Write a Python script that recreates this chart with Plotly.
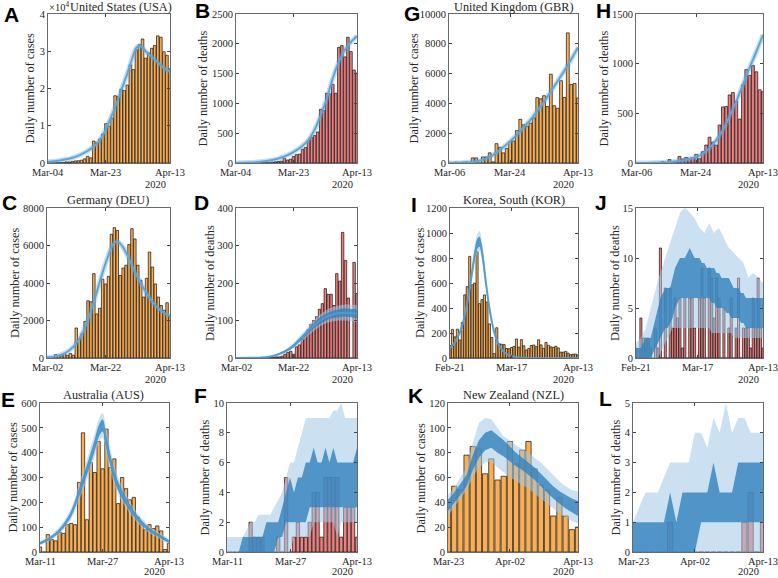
import plotly.graph_objects as go
import pandas as pd

# ======================= DATA =======================
# ---- United States (USA): Mar-04 .. Apr-13
USA_START, USA_MID, USA_END = "2020-03-04", "2020-03-23", "2020-04-13"
USA_CASES = [30, 60, 70, 100, 120, 120, 290, 270, 410, 560, 610, 750, 1100, 1790, 1370,
             5890, 5420, 6390, 7780, 10570, 9890, 12040, 18060, 17820, 19810, 19440, 20920,
             26340, 25070, 30380, 31750, 33280, 28150, 29520, 30800, 31530, 34130, 33760,
             29860, 28920, 25310]
USA_CASES_FIT_DAYS = [0, 2, 4, 6, 8, 10, 12, 14, 16, 18, 20, 22, 24, 26, 28, 29, 30, 31, 32, 34, 36, 38, 40]
USA_CASES_FIT = [300, 500, 700, 1000, 1400, 2000, 2800, 3800, 5200, 7500, 11000, 15000, 19500,
                 24000, 29000, 31000, 31500, 31000, 30000, 28500, 27000, 25500, 24500]
USA_DEATHS = [1, 1, 1, 2, 2, 3, 4, 4, 5, 6, 8, 10, 15, 20, 25, 30,
              80, 50, 65, 110, 140, 150, 230, 260, 380, 430, 460, 520, 900, 880, 1170, 1160,
              1320, 1170, 1940, 1970, 1780, 2110, 1870, 1560, 1510]
USA_DEATHS_FIT_DAYS = [0, 4, 8, 12, 14, 16, 18, 20, 22, 24, 26, 28, 30, 32, 34, 36, 38, 40]
USA_DEATHS_FIT = [2, 8, 20, 50, 75, 110, 155, 215, 290, 390, 560, 800, 1080, 1420, 1700, 1900, 2030, 2130]

# ---- United Kingdom (GBR): Mar-06 .. Apr-13
GBR_START, GBR_MID, GBR_END = "2020-03-06", "2020-03-24", "2020-04-13"
GBR_CASES = [48, 43, 67, 48, 62, 75, 0, 342, 342, 1, 407, 409, 682, 74, 1298, 1053, 678, 981,
             1438, 1476, 2172, 2933, 2567, 2468, 2673, 3028, 4384, 4308, 4516, 3788, 5959, 3843,
             3670, 5525, 4398, 8733, 5269, 5332, 4364]
GBR_CASES_FIT_DAYS = [0, 4, 8, 10, 12, 14, 16, 18, 20, 22, 24, 26, 28, 30, 32, 34, 36, 38]
GBR_CASES_FIT = [0, 20, 100, 220, 400, 700, 1050, 1450, 1900, 2400, 2900, 3500, 4100, 4800, 5500,
                 6200, 6950, 7750]
GBR_DEATHS = [1, 0, 1, 1, 2, 2, 0, 0, 13, 0, 35, 0, 16, 66, 40, 56, 48, 54, 87, 43, 114, 181,
              260, 210, 180, 382, 564, 569, 685, 709, 623, 442, 786, 940, 882, 981, 918, 737, 718]
GBR_DEATHS_FIT_DAYS = [0, 5, 10, 14, 16, 18, 20, 22, 24, 26, 28, 30, 32, 34, 36, 38]
GBR_DEATHS_FIT = [0, 2, 10, 25, 40, 60, 95, 150, 230, 330, 470, 620, 790, 960, 1120, 1290]

# ---- Germany (DEU): Mar-02 .. Apr-13
DEU_START, DEU_MID, DEU_END = "2020-03-02", "2020-03-22", "2020-04-13"
DEU_CASES = [30, 50, 50, 180, 130, 120, 240, 140, 240, 150, 1600, 1000, 1300, 1950, 3050, 3000,
             4500, 2350, 2650, 4200, 3950, 4350, 6600, 6950, 6800, 4400, 4800, 4950, 6050, 6900,
             6350, 4950, 4150, 3250, 4250, 5650, 4850, 3950, 3250, 2800, 2550, 2950, 2250]
DEU_CASES_FIT_DAYS = [0, 2, 4, 6, 8, 10, 12, 14, 16, 18, 20, 22, 23, 24, 25, 26, 28, 30, 32, 34, 36, 38, 40, 42]
DEU_CASES_FIT = [30, 60, 130, 250, 450, 780, 1300, 2050, 3000, 4050, 5050, 5900, 6150, 6200, 6100,
                 5900, 5300, 4600, 4000, 3450, 3000, 2650, 2400, 2250]
DEU_DEATHS = [0, 0, 0, 0, 0, 0, 0, 1, 0, 2, 0, 1, 2, 2, 3, 3, 5, 10, 15, 18, 10, 30, 35, 50, 60,
              75, 90, 100, 110, 130, 145, 185, 170, 170, 140, 225, 205, 335, 260, 160, 0, 255, 172]
DEU_DEATHS_FIT_DAYS = [0, 5, 8, 10, 12, 14, 16, 18, 20, 22, 24, 26, 28, 30, 32, 34, 36, 38, 40, 42]
DEU_DEATHS_MED = [0, 0.5, 1, 2, 4, 8, 14, 22, 33, 48, 63, 79, 93, 104, 112, 117, 120, 121, 120, 118]
DEU_DEATHS_D_LO = [0, 0.4, 0.8, 1.6, 3.3, 6.8, 12, 19, 29, 43, 57, 72, 85, 95, 103, 107, 109, 110, 109, 107]
DEU_DEATHS_D_HI = [0, 0.6, 1.2, 2.4, 4.7, 9.2, 16, 25, 37, 53, 69, 86, 101, 113, 121, 127, 131, 132, 131, 129]
DEU_DEATHS_L_LO = [0, 0.3, 0.6, 1.3, 2.8, 5.8, 10, 17, 26, 39, 52, 66, 78, 88, 95, 98, 100, 100, 99, 97]
DEU_DEATHS_L_HI = [0.1, 0.8, 1.5, 2.8, 5.4, 10.5, 18, 28, 41, 58, 75, 93, 109, 121, 131, 137, 141, 143, 142, 140]

# ---- Korea, South (KOR): Feb-21 .. Apr-13
KOR_START, KOR_MID, KOR_END = "2020-02-21", "2020-03-17", "2020-04-13"
KOR_CASES = [100, 229, 169, 231, 144, 284, 505, 571, 813, 586, 599, 851, 435, 467, 505, 448, 273,
             164, 35, 242, 114, 110, 107, 76, 74, 84, 93, 152, 87, 147, 98, 64, 76, 100, 104, 91,
             146, 105, 78, 125, 101, 89, 86, 94, 81, 47, 47, 53, 39, 27, 30, 32, 25]
KOR_CASES_FIT_DAYS = [0, 2, 4, 5, 6, 7, 8, 9, 10, 11, 12, 13, 14, 15, 16, 17, 18, 19, 20, 21, 22, 24, 26, 28, 32, 40, 52]
KOR_CASES_MED = [80, 125, 205, 265, 340, 440, 560, 690, 820, 910, 930, 850, 700, 540, 400, 290, 205,
                 145, 100, 70, 48, 22, 10, 5, 1, 0, 0]
KOR_CASES_L_HI = [90, 138, 224, 290, 372, 482, 612, 755, 895, 990, 1015, 930, 768, 595, 442, 322,
                  229, 163, 114, 80, 56, 27, 13, 7, 2, 0.5, 0.5]
KOR_CASES_L_LO = [72, 113, 188, 243, 311, 402, 510, 628, 748, 833, 855, 780, 640, 492, 362, 260, 183,
                  129, 88, 61, 41, 18, 8, 4, 0.5, 0, 0]
KOR_CASES_D_HI = [85, 131, 214, 277, 355, 460, 585, 720, 855, 950, 970, 890, 733, 567, 420, 305, 216,
                  153, 106, 74, 51, 24, 11, 6, 1.5, 0.2, 0.2]
KOR_CASES_D_LO = [75, 119, 196, 253, 325, 420, 535, 660, 785, 870, 890, 810, 667, 513, 380, 275, 194,
                  137, 94, 66, 45, 20, 9, 4, 0.8, 0, 0]
KOR_DEATHS = [1, 0, 4, 2, 2, 2, 1, 0, 3, 1, 11, 0, 7, 0, 7, 3, 6, 4, 6, 1, 6, 0, 6, 6, 3, 0, 6, 9,
              6, 0, 9, 8, 4, 8, 6, 0, 5, 0, 3, 6, 0, 3, 8, 0, 3, 3, 3, 1, 6, 3, 8, 3, 1]
KOR_DEATHS_L_HI = [1.5, 1.8, 2, 2.5, 3, 4, 5, 6, 7, 7.8, 8.5, 9.3, 10, 10.8, 11.5, 12.3, 13, 13.8,
                   14.5, 14.8, 15, 14.8, 14.5, 14.3, 14, 13.5, 13, 12.8, 12.5, 13, 13.5, 13, 12.5,
                   12.8, 13, 12.5, 12, 11.5, 11, 10.8, 10.5, 10.3, 10, 9.8, 9.5, 8.8, 8, 8.3, 8.5,
                   8.3, 8, 7.8, 7.5]
KOR_DEATHS_L_LO = [0, 0, 0, 0, 0, 0, 0, 0, 0, 0, 0.5, 1, 1.5, 2, 2.5, 3, 3, 3, 3, 3, 3, 3, 3, 3, 3,
                   3, 3, 3, 3, 3, 3, 2.5, 2.5, 2.5, 2.5, 2.5, 2.5, 2.5, 2.5, 2.5, 2, 2, 2, 2, 2, 2,
                   2, 2, 2, 2, 2, 2, 2]
KOR_DEATHS_D_HI = [1, 1, 1, 1.5, 2, 2, 2, 3, 4, 5, 6, 6.5, 7, 7, 7, 8, 9, 9.5, 10, 10, 10, 10.5, 11,
                   10.5, 10, 10, 10, 9.5, 9.5, 9, 9, 9, 9, 8.5, 8.5, 8, 8, 8, 8, 7.5, 7, 7, 7, 6.5,
                   6.5, 6, 6, 6, 6, 6, 6, 6, 6]
KOR_DEATHS_D_LO = [0, 0, 0, 0, 0, 0, 0, 0.5, 1, 1.5, 2, 2.5, 3, 3, 3.5, 4, 5, 5.5, 6, 6, 6, 6, 6, 6,
                   6, 6, 6, 6, 6, 6, 6, 5.5, 5.5, 5, 5, 5, 5, 4.5, 4.5, 4, 4, 4, 4, 3.5, 3.5, 3, 3,
                   3, 3, 3, 3, 3, 3]

# ---- Australia (AUS): Mar-11 .. Apr-13
AUS_START, AUS_MID, AUS_END = "2020-03-11", "2020-03-27", "2020-04-13"
AUS_CASES = [20, 0, 70, 50, 45, 80, 75, 110, 115, 110, 280, 480, 130, 360, 320, 445, 335, 495, 340,
             375, 195, 300, 255, 210, 220, 140, 110, 90, 110, 95, 105, 85, 10, 35]
AUS_CASES_FIT_DAYS = [0, 2, 4, 6, 8, 10, 12, 13, 14, 15, 16, 17, 18, 19, 20, 22, 24, 26, 28, 30, 33]
AUS_CASES_MED = [35, 50, 72, 105, 155, 240, 330, 380, 430, 485, 510, 440, 370, 310, 265, 205, 155, 118, 90, 70, 42]
AUS_CASES_D_LO = [31, 45, 66, 97, 144, 224, 310, 358, 407, 462, 485, 415, 347, 290, 247, 191, 144, 109, 83, 64, 38]
AUS_CASES_D_HI = [39, 55, 78, 113, 166, 256, 350, 402, 453, 508, 535, 465, 393, 330, 283, 219, 166, 127, 97, 76, 46]
AUS_CASES_L_LO = [27, 41, 60, 89, 133, 208, 290, 336, 384, 438, 460, 390, 325, 272, 230, 178, 133, 100, 76, 58, 34]
AUS_CASES_L_HI = [44, 60, 85, 122, 178, 274, 372, 426, 478, 535, 560, 492, 417, 350, 302, 233, 178, 137, 105, 83, 51]
AUS_DEATHS = [0, 0, 0, 0, 0, 0, 2, 1, 1, 1, 0, 0, 0, 1, 0, 5, 0, 1, 2, 1, 1, 2, 4, 4, 1, 5, 5, 5, 5,
              1, 3, 3, 3, 1]
AUS_DEATHS_L_HI = [1, 1, 1, 1, 1, 1.5, 2, 2, 2.5, 2.5, 2.5, 2.5, 3, 3.5, 4, 5, 6, 6, 7, 8, 9, 9, 9, 9,
                   9, 9, 9, 9.5, 9.5, 10, 9, 9, 9, 9]
AUS_DEATHS_L_LO = [0, 0, 0, 0, 0, 0, 0, 0, 0, 0, 0, 0, 0, 0, 0, 0, 0, 1, 1, 1, 1, 1, 2, 2, 2, 2, 2, 2,
                   1, 2, 2, 2, 2, 2]
AUS_DEATHS_D_HI = [0, 0, 0, 0, 1, 1, 1, 1, 1, 1, 2, 2, 2, 2, 3, 4, 5, 4, 5, 5, 6, 6, 7, 6, 6, 7, 6, 7,
                   6, 6, 6, 6, 6, 7]
AUS_DEATHS_D_LO = [0, 0, 0, 0, 0, 0, 0, 0, 0, 0, 0, 0, 0, 1, 1, 2, 2, 2, 2, 2, 2, 3, 3, 3, 3, 3, 3, 3,
                   3, 3, 3, 3, 3, 3]

# ---- New Zealand (NZL): Mar-23 .. Apr-13
NZL_START, NZL_MID, NZL_END = "2020-03-23", "2020-04-02", "2020-04-13"
NZL_CASES = [36, 53, 50, 78, 85, 83, 63, 75, 58, 61, 89, 71, 82, 89, 67, 54, 50, 29, 44, 29, 18, 20]
NZL_CASES_L_HI = [46, 52, 60, 68, 88, 104, 108, 107, 100, 93, 90, 86, 83, 80, 76, 72, 67, 62, 57, 53, 50, 49]
NZL_CASES_L_LO = [29, 36, 43, 50, 60, 68, 72, 73, 68, 64, 60, 57, 54, 51, 47, 43, 39, 35, 31, 28, 25, 23]
NZL_CASES_D_HI = [42, 48, 55, 62, 78, 90, 96, 98, 94, 90, 85, 80, 76, 72, 68, 63, 58, 53, 49, 46, 43, 41]
NZL_CASES_D_LO = [33, 39, 46, 53, 66, 76, 82, 84, 80, 77, 73, 69, 66, 62, 58, 53, 48, 43, 39, 35, 32, 29]
NZL_DEATHS = [0, 0, 0, 0, 0, 0, 1, 0, 0, 0, 0, 0, 0, 0, 0, 0, 0, 0, 1, 2, 0, 1]
NZL_DEATHS_L_HI = [1, 1.5, 2, 2, 2, 2.5, 3, 3, 3, 3, 4, 4, 3.5, 4.5, 4, 5, 4, 4.5, 4.5, 4, 4, 4]
NZL_DEATHS_L_LO = [0] * 22
NZL_DEATHS_D_HI = [1, 1, 1, 1, 1, 1, 2, 1, 2, 2, 2, 2, 2, 3, 2, 2, 2, 3, 3, 3, 3, 3]
NZL_DEATHS_D_LO = [0, 0, 0, 0, 0, 0, 0, 0, 0, 0, 0, 1, 1, 1, 1, 1, 1, 1, 1, 1, 1, 1]

# ======================= STYLE =======================
W, H = 778, 578
SERIF = "Liberation Serif, Times New Roman, serif"
SANS = "Liberation Sans, Arial, sans-serif"
ORANGE = "#FBAE52"
RED = "#EF8080"
LINE_BLUE = "#5FA6D8"
HALO_BLUE = "rgba(95,166,216,0.35)"
LIGHT_FILL = "rgba(160,200,230,0.55)"
DARK_FILL = "rgba(50,130,190,0.80)"
AX_COLOR = "#444444"
TXT = "#262626"
DAY_MS = 86400000
TICK_FS = 10.5
LABEL_FS = 12.3


def day_dates(start, days):
    return [pd.Timestamp(start) + pd.Timedelta(days=int(d)) for d in days]


def series_dates(start, n):
    return list(pd.date_range(start, periods=n, freq="D"))


PANELS = [
    dict(L="A", title="United States (USA)", box=(48, 170, 14, 163), s=USA_START, m=USA_MID, e=USA_END,
         yl="Daily number of cases", ymax=40000, ystep=10000, yscale=1e4, ylx=30, lpos=(11, 15), tpos=(121, 7),
         bars=USA_CASES, col=ORANGE, fit=("line", USA_CASES_FIT_DAYS, USA_CASES_FIT)),
    dict(L="B", title=None, box=(236, 357, 14, 163), s=USA_START, m=USA_MID, e=USA_END,
         yl="Daily number of deaths", ymax=2500, ystep=500, ylx=203, lpos=(202, 11),
         bars=USA_DEATHS, col=RED, fit=("line", USA_DEATHS_FIT_DAYS, USA_DEATHS_FIT)),
    dict(L="G", title="United Kingdom (GBR)", box=(449, 578, 14, 163), s=GBR_START, m=GBR_MID, e=GBR_END,
         yl="Daily number of cases", ymax=10000, ystep=2000, ylx=414, lpos=(412, 13), tpos=(514, 7),
         bars=GBR_CASES, col=ORANGE, fit=("line", GBR_CASES_FIT_DAYS, GBR_CASES_FIT)),
    dict(L="H", title=None, box=(636, 763, 14, 163), s=GBR_START, m=GBR_MID, e=GBR_END,
         yl="Daily number of deaths", ymax=1500, ystep=500, ylx=604, lpos=(603, 11),
         bars=GBR_DEATHS, col=RED, fit=("line", GBR_DEATHS_FIT_DAYS, GBR_DEATHS_FIT)),
    dict(L="C", title="Germany (DEU)", box=(47, 170, 208, 358), s=DEU_START, m=DEU_MID, e=DEU_END,
         yl="Daily number of cases", ymax=8000, ystep=2000, ylx=15, lpos=(9, 203), tpos=(108, 200),
         bars=DEU_CASES, col=ORANGE, fit=("line", DEU_CASES_FIT_DAYS, DEU_CASES_FIT)),
    dict(L="D", title=None, box=(236, 357, 208, 358), s=DEU_START, m=DEU_MID, e=DEU_END,
         yl="Daily number of deaths", ymax=400, ystep=100, ylx=210, lpos=(201, 202),
         bars=DEU_DEATHS, col=RED,
         fit=("band", DEU_DEATHS_FIT_DAYS, DEU_DEATHS_L_LO, DEU_DEATHS_L_HI, DEU_DEATHS_D_LO, DEU_DEATHS_D_HI,
              DEU_DEATHS_MED)),
    dict(L="I", title="Korea, South (KOR)", box=(450, 578, 208, 358), s=KOR_START, m=KOR_MID, e=KOR_END,
         yl="Daily number of cases", ymax=1200, ystep=200, ylx=420, lpos=(414, 204), tpos=(514, 200),
         bars=KOR_CASES, col=ORANGE,
         fit=("band", KOR_CASES_FIT_DAYS, KOR_CASES_L_LO, KOR_CASES_L_HI, KOR_CASES_D_LO, KOR_CASES_D_HI,
              KOR_CASES_MED)),
    dict(L="J", title=None, box=(636, 763, 208, 358), s=KOR_START, m=KOR_MID, e=KOR_END,
         yl="Daily number of deaths", ymax=15, ystep=5, ylx=615, lpos=(601, 202),
         bars=KOR_DEATHS, col=RED,
         fit=("band", list(range(len(KOR_DEATHS_L_HI))), KOR_DEATHS_L_LO, KOR_DEATHS_L_HI, KOR_DEATHS_D_LO,
              KOR_DEATHS_D_HI, None)),
    dict(L="E", title="Australia (AUS)", box=(40, 169, 403, 552), s=AUS_START, m=AUS_MID, e=AUS_END,
         yl="Daily number of cases", ymax=600, ystep=100, ylx=13, lpos=(8, 399), tpos=(104, 395),
         bars=AUS_CASES, col=ORANGE,
         fit=("band", AUS_CASES_FIT_DAYS, AUS_CASES_L_LO, AUS_CASES_L_HI, AUS_CASES_D_LO, AUS_CASES_D_HI,
              AUS_CASES_MED)),
    dict(L="F", title=None, box=(227, 357, 403, 552), s=AUS_START, m=AUS_MID, e=AUS_END,
         yl="Daily number of deaths", ymax=10, ystep=2, ylx=205, lpos=(200, 396),
         bars=AUS_DEATHS, col=RED,
         fit=("band", list(range(len(AUS_DEATHS_L_HI))), AUS_DEATHS_L_LO, AUS_DEATHS_L_HI, AUS_DEATHS_D_LO,
              AUS_DEATHS_D_HI, None)),
    dict(L="K", title="New Zealand (NZL)", box=(448, 578, 403, 552), s=NZL_START, m=NZL_MID, e=NZL_END,
         yl="Daily number of cases", ymax=120, ystep=20, ylx=421, lpos=(416, 395), tpos=(513, 395),
         bars=NZL_CASES, col=ORANGE,
         fit=("band", list(range(len(NZL_CASES_L_HI))), NZL_CASES_L_LO, NZL_CASES_L_HI, NZL_CASES_D_LO,
              NZL_CASES_D_HI, None)),
    dict(L="L", title=None, box=(633, 763, 403, 552), s=NZL_START, m=NZL_MID, e=NZL_END,
         yl="Daily number of deaths", ymax=5, ystep=1, ylx=616, lpos=(605, 398),
         bars=NZL_DEATHS, col=RED,
         fit=("band", list(range(len(NZL_DEATHS_L_HI))), NZL_DEATHS_L_LO, NZL_DEATHS_L_HI, NZL_DEATHS_D_LO,
              NZL_DEATHS_D_HI, None)),
]

fig = go.Figure()
layout = dict(width=W, height=H, margin=dict(l=0, r=0, t=0, b=0, pad=0, autoexpand=False),
              paper_bgcolor="white", plot_bgcolor="white", showlegend=False, bargap=0)
ann = []


def px_x(x):
    return x / W


def px_y(y):
    return 1 - y / H


for k, p in enumerate(PANELS, start=1):
    sfx = "" if k == 1 else str(k)
    xa, ya = "x" + sfx, "y" + sfx
    x0, x1, yt, yb = p["box"]
    start, mid, end = pd.Timestamp(p["s"]), pd.Timestamp(p["m"]), pd.Timestamp(p["e"])

    bx = series_dates(p["s"], len(p["bars"]))
    fig.add_trace(go.Bar(x=bx, y=p["bars"], width=[0.85 * DAY_MS] * len(bx), marker_color=p["col"],
                         marker_line=dict(color="#111111", width=0.7), xaxis=xa, yaxis=ya,
                         hoverinfo="skip"))
    fit = p["fit"]
    if fit[0] == "line":
        fx = day_dates(p["s"], fit[1])
        fig.add_trace(go.Scatter(x=fx, y=fit[2], mode="lines", line=dict(color=HALO_BLUE, width=5, shape="spline"),
                                 xaxis=xa, yaxis=ya, hoverinfo="skip"))
        fig.add_trace(go.Scatter(x=fx, y=fit[2], mode="lines", line=dict(color=LINE_BLUE, width=2, shape="spline"),
                                 xaxis=xa, yaxis=ya, hoverinfo="skip"))
    else:
        _, days, llo, lhi, dlo, dhi, med = fit
        fx = day_dates(p["s"], days)
        shape = "spline" if med is not None else "linear"
        for lo, hi, colr in ((llo, lhi, LIGHT_FILL), (dlo, dhi, DARK_FILL)):
            fig.add_trace(go.Scatter(x=fx + fx[::-1], y=list(hi) + list(lo)[::-1], mode="lines",
                                     fill="toself", fillcolor=colr, line=dict(width=0, shape=shape),
                                     xaxis=xa, yaxis=ya, hoverinfo="skip"))
        if med is not None:
            fig.add_trace(go.Scatter(x=fx, y=med, mode="lines",
                                     line=dict(color="rgba(80,155,210,0.9)", width=2, shape="spline"),
                                     xaxis=xa, yaxis=ya, hoverinfo="skip"))

    yt_vals = list(range(0, int(p["ymax"]) + 1, int(p["ystep"])))
    if p.get("yscale"):
        yt_text = [str(int(v / p["yscale"])) for v in yt_vals]
    else:
        yt_text = [str(v) for v in yt_vals]

    layout["xaxis" + sfx] = dict(
        domain=[px_x(x0), px_x(x1)], anchor=ya, type="date",
        range=[start, end], tickvals=[start, mid, end], showticklabels=False,
        ticks="inside", ticklen=3, tickcolor=AX_COLOR, showline=True, linecolor=AX_COLOR, linewidth=0.8,
        mirror="ticks", showgrid=False, zeroline=False, automargin=False, fixedrange=True)
    layout["yaxis" + sfx] = dict(
        domain=[px_y(yb), px_y(yt)], anchor=xa, range=[0, p["ymax"]],
        tickvals=yt_vals, ticktext=yt_text,
        ticks="inside", ticklen=3, tickcolor=AX_COLOR, showline=True, linecolor=AX_COLOR, linewidth=0.8,
        mirror="ticks", showgrid=False, zeroline=False, automargin=False,
        tickfont=dict(family=SERIF, size=TICK_FS, color=TXT), fixedrange=True)

    span = (end - start).total_seconds()
    for d in (start, mid, end):
        fx_px = x0 + (x1 - x0) * (d - start).total_seconds() / span
        ann.append(dict(text=d.strftime("%b-%d"), x=px_x(fx_px), y=px_y(yb + 9), xref="paper", yref="paper",
                        showarrow=False, font=dict(family=SERIF, size=TICK_FS, color=TXT),
                        xanchor="center", yanchor="middle"))
    ann.append(dict(text="2020", x=px_x(x1 - 15), y=px_y(min(yb + 21, 571)), xref="paper", yref="paper",
                    showarrow=False, font=dict(family=SERIF, size=TICK_FS, color=TXT),
                    xanchor="center", yanchor="middle"))
    lx, ly = p["lpos"]
    ann.append(dict(text="<b>%s</b>" % p["L"], x=px_x(lx), y=px_y(ly), xref="paper", yref="paper",
                    showarrow=False, font=dict(family=SANS, size=21, color="black"),
                    xanchor="center", yanchor="middle"))
    if p["title"]:
        tx, ty = p["tpos"]
        ann.append(dict(text=p["title"], x=px_x(tx), y=px_y(ty), xref="paper", yref="paper",
                        showarrow=False, font=dict(family=SERIF, size=LABEL_FS, color=TXT),
                        xanchor="center", yanchor="middle"))
    ann.append(dict(text=p["yl"], x=px_x(p["ylx"]), y=px_y((yt + yb) / 2), xref="paper", yref="paper",
                    showarrow=False, textangle=-90, font=dict(family=SERIF, size=LABEL_FS, color=TXT),
                    xanchor="center", yanchor="middle"))

ann.append(dict(text="×10<sup>4</sup>", x=px_x(47), y=px_y(7), xref="paper", yref="paper",
                showarrow=False, font=dict(family=SERIF, size=10.5, color=TXT),
                xanchor="left", yanchor="middle"))

layout["annotations"] = ann
fig.update_layout(**layout)
fig.write_html("out.html", config={"displayModeBar": False, "staticPlot": True},
               post_script="document.body.style.margin='0px';document.body.style.padding='0px';"
                           "document.body.style.overflow='hidden';")
